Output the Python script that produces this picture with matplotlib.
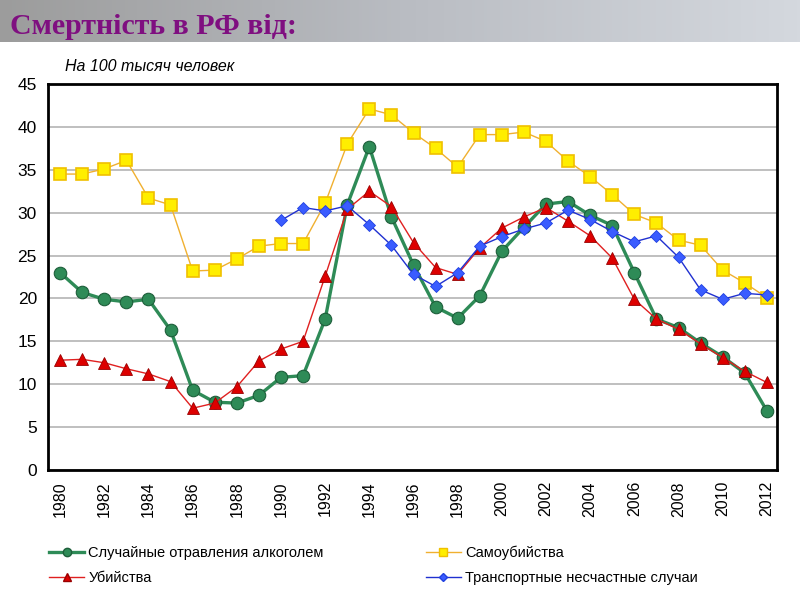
import numpy as np
import matplotlib.pyplot as plt
from matplotlib.lines import Line2D
from matplotlib.colors import LinearSegmentedColormap

# данные (на 100 тысяч человек)
years = list(range(1980, 2013))

alcohol = [23.0, 20.7, 19.9, 19.6, 19.9, 16.3, 9.3, 7.9, 7.8, 8.7, 10.8, 11.0, 17.6,
           30.9, 37.7, 29.5, 23.9, 19.0, 17.7, 20.3, 25.5, 28.3, 31.0, 31.3, 29.7,
           28.5, 23.0, 17.6, 16.6, 14.8, 13.2, 11.3, 6.9]

suicides = [34.5, 34.5, 35.1, 36.1, 31.7, 30.9, 23.2, 23.3, 24.6, 26.1, 26.4, 26.4, 31.1,
            38.0, 42.1, 41.4, 39.3, 37.5, 35.3, 39.1, 39.1, 39.4, 38.3, 36.0, 34.2,
            32.1, 29.8, 28.8, 26.8, 26.2, 23.3, 21.8, 20.1]

murders = [12.8, 12.9, 12.5, 11.8, 11.2, 10.3, 7.2, 7.8, 9.7, 12.7, 14.1, 15.0, 22.6,
           30.4, 32.5, 30.7, 26.5, 23.6, 22.8, 25.9, 28.2, 29.5, 30.6, 29.0, 27.3,
           24.7, 19.9, 17.6, 16.4, 14.7, 13.1, 11.5, 10.2]

transport_years = list(range(1990, 2013))
transport = [29.1, 30.6, 30.2, 30.8, 28.6, 26.2, 22.8, 21.4, 23.0, 26.1, 27.2, 28.1,
             28.8, 30.3, 29.2, 27.8, 26.6, 27.3, 24.8, 21.0, 19.9, 20.6, 20.4]

labels = ['Случайные отравления алкоголем', 'Убийства',
          'Самоубийства', 'Транспортные несчастные случаи']

fig = plt.figure(figsize=(8, 6), dpi=100)

# серая полоса заголовка
band = fig.add_axes([0, 0.93, 1, 0.07])
grad = np.linspace(0, 1, 256).reshape(1, -1)
cm = LinearSegmentedColormap.from_list('band', ['#9c9c9c', '#b9bcc2', '#d4d8de'])
band.imshow(grad, aspect='auto', cmap=cm, extent=[0, 1, 0, 1])
band.axis('off')
fig.text(0.012, 0.955, 'Смертність в РФ від:', color='#7f0f80', fontsize=21.5,
         fontweight='bold', family=['Liberation Serif', 'DejaVu Serif'], va='center')

ax = fig.add_axes([0.06, 0.2167, 0.911, 0.6433])

ax.plot(years, alcohol, color='#2e8b57', lw=2.4, marker='o', ms=9,
        mfc='#2e8b57', mec='#1d5e3a', mew=0.8, zorder=3)
ax.plot(years, suicides, color='#f0b030', lw=1.0, marker='s', ms=9,
        mfc='#ffee00', mec='#f0c000', mew=1.2, zorder=2)
ax.plot(years, murders, color='#e02020', lw=1.0, marker='^', ms=9,
        mfc='#dd0000', mec='#990000', mew=0.6, zorder=4)
ax.plot(transport_years, transport, color='#2030d0', lw=1.0, marker='D', ms=6.5,
        mfc='#3a5cff', mec='#2040e0', mew=0.6, zorder=5)

ax.set_xlim(1979.45, 2012.45)
ax.set_ylim(0, 45)
ax.set_yticks(range(0, 46, 5))
ax.set_xticks(range(1980, 2013, 2))
ax.set_xticklabels([str(y) for y in range(1980, 2013, 2)], rotation=90)
ax.tick_params(axis='y', length=0, labelsize=12.5, pad=8)
ax.tick_params(axis='x', length=0, labelsize=11.5, pad=8)
for lab in ax.get_yticklabels() + ax.get_xticklabels():
    lab.set_family(['Liberation Sans', 'DejaVu Sans'])
ax.yaxis.grid(True, color='#b4b4b4', lw=1.2)
ax.set_axisbelow(True)
for s in ax.spines.values():
    s.set_linewidth(2)
    s.set_color('black')

fig.text(0.081, 0.882, 'На 100 тысяч человек', style='italic', fontsize=11.5,
         family=['Liberation Sans', 'DejaVu Sans'])

handles = [
    Line2D([], [], color='#2e8b57', lw=2.4, marker='o', ms=6, mfc='#2e8b57', mec='#1d5e3a'),
    Line2D([], [], color='#e02020', lw=1.0, marker='^', ms=6, mfc='#dd0000', mec='#990000'),
    Line2D([], [], color='#f0b030', lw=1.0, marker='s', ms=6, mfc='#ffee00', mec='#f0c000'),
    Line2D([], [], color='#2030d0', lw=1.0, marker='D', ms=4.5, mfc='#3a5cff', mec='#2040e0'),
]
fig.legend(handles, labels, loc='upper left', bbox_to_anchor=(0.045, 0.113), ncol=2,
           frameon=False, handlelength=2.4, handletextpad=0.3, columnspacing=7.0,
           labelspacing=0.75, prop={'family': ['Liberation Sans', 'DejaVu Sans'], 'size': 10.5})

plt.savefig('out.png', dpi=100)
